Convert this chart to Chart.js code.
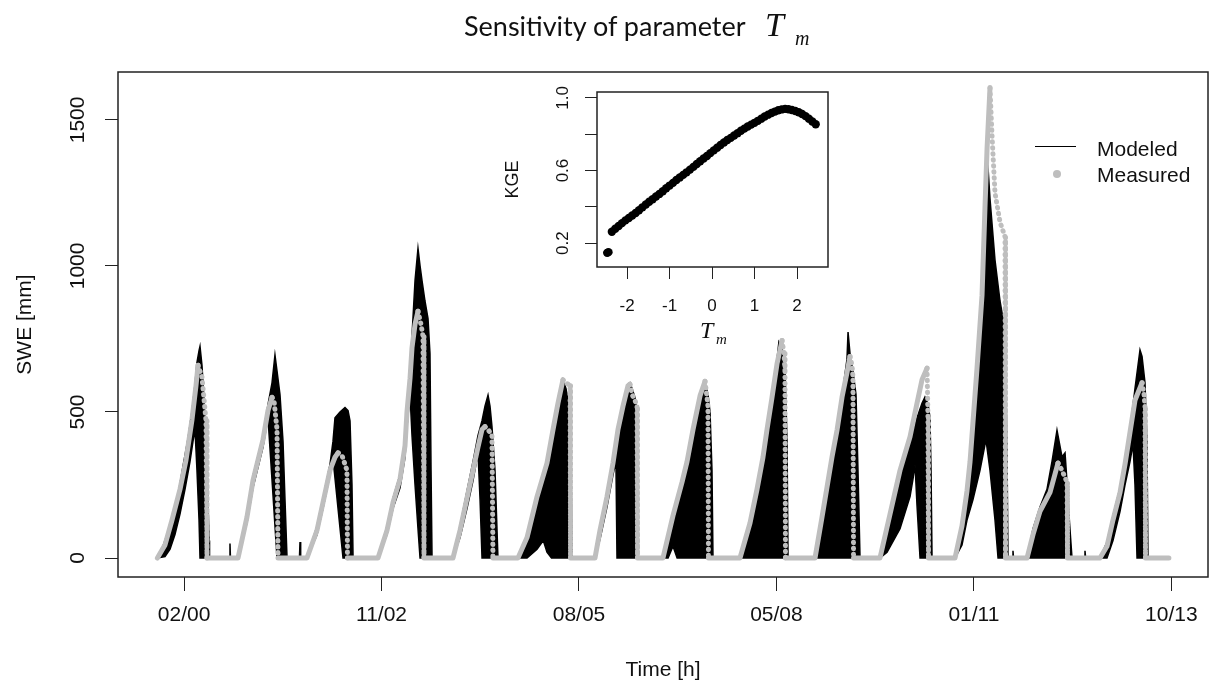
<!DOCTYPE html>
<html>
<head>
<meta charset="utf-8">
<script src="https://cdn.jsdelivr.net/npm/chart.js@4.4.1/dist/chart.umd.min.js"></script>
<style>
  body { margin: 0; background: #fff; }
  #wrap { position: relative; width: 1214px; height: 683px; overflow: hidden; }
  canvas { position: absolute; }
  #main { left: 0; top: 0; }
  #inset { left: 480px; top: 80px; }
  .t { position: absolute; white-space: nowrap; line-height: 1; color: #111; }
  .sans { font-family: "Liberation Sans", Arial, sans-serif; font-size: 21px; }
  .serif { font-family: "Liberation Serif", "Times New Roman", serif; font-style: italic; }
</style>
</head>
<body>
<div id="wrap">
  <canvas id="main" width="1214" height="683"></canvas>
  <canvas id="inset" width="360" height="280"></canvas>

  <div class="t" style="left:464px;top:12px;font-family:Lato,sans-serif;font-size:27px;">Sensitivity of parameter</div>
  <div class="t serif" style="left:765px;top:8px;font-size:34px;">T</div>
  <div class="t serif" style="left:795px;top:28px;font-size:20px;">m</div>

  <div class="t serif" style="left:700px;top:318px;font-size:24px;">T</div>
  <div class="t serif" style="left:716px;top:332px;font-size:15px;">m</div>

  <div style="position:absolute;left:1035px;top:146px;width:41px;border-top:1.5px solid #000;"></div>
  <div style="position:absolute;left:1053px;top:170px;width:8px;height:8px;border-radius:50%;background:#bebebe;"></div>
  <div class="t sans" style="left:1097px;top:138px;">Modeled</div>
  <div class="t sans" style="left:1097px;top:164px;">Measured</div>
</div>

<script>
// x axis in hours since start of record
const tickHours = [3250, 27300, 51350, 75400, 99450, 123500];
const tickLabels = ["02/00", "11/02", "08/05", "05/08", "01/11", "10/13"];
const sweTicks = [0, 500, 1000, 1500];

// upper edge of the modeled ensemble [h, mm]
const modeledUpper = [
  [0, 0],
  [70, 0], [680, 40], [1290, 90], [1900, 150], [2510, 215], [3120, 315], [3730, 410], [4220, 505], [4580, 595], [4820, 670], [5070, 710], [5190, 725], [5430, 660], [5680, 540], [5920, 405], [6160, 200], [6290, 60], [6350, 0],
  [8750, 0], [8840, 50], [8900, 0],
  [9820, 0], [10910, 150], [11640, 280], [12860, 420], [13470, 525], [13960, 600], [14320, 695], [14570, 640], [14930, 560], [15300, 400], [15540, 200], [15790, 0],
  [17300, 0], [17370, 55], [17450, 0],
  [18220, 0], [19440, 110], [20170, 205], [21020, 320], [21390, 400], [21630, 480], [22240, 500], [22850, 515], [23220, 505], [23460, 470], [23700, 250], [23830, 0],
  [26870, 0], [27970, 110], [28700, 205], [29550, 285], [30160, 400], [30400, 515], [30770, 630], [31010, 760], [31380, 950], [31740, 1060], [31990, 1000], [32230, 950], [32590, 880], [32960, 820], [33200, 700], [33330, 300], [33450, 0],
  [36000, 0], [36860, 110], [37710, 230], [38440, 330], [39050, 420], [39540, 470], [39900, 520], [40270, 558], [40510, 520], [40750, 450], [41120, 300], [41480, 0],
  [43920, 0], [45020, 70], [46240, 200], [47450, 320], [48190, 430], [48790, 525], [49400, 610], [49770, 580], [50260, 500], [50380, 300], [50500, 0],
  [53300, 0], [53910, 100], [54760, 215], [55490, 330], [56100, 445], [56710, 525], [57320, 595], [57560, 600], [57810, 580], [58170, 550], [58420, 500], [58540, 0],
  [61580, 0], [62800, 140], [63900, 260], [64510, 330], [65240, 440], [66090, 550], [66700, 600], [67060, 560], [67310, 500], [67550, 300], [67670, 0],
  [70960, 0], [72180, 115], [73030, 225], [73760, 340], [74250, 430], [74860, 545], [75470, 680], [75700, 740], [76080, 720], [76440, 650], [76690, 400], [76810, 0],
  [80100, 0], [80950, 140], [81560, 245], [82170, 350], [82780, 440], [83390, 555], [83990, 680], [84120, 774], [84360, 700], [84720, 640], [85090, 560], [85330, 300], [85580, 0],
  [88010, 0], [89230, 140], [90450, 280], [91670, 390], [92520, 480], [93130, 530], [93490, 551], [93860, 530], [94100, 480], [94230, 300], [94350, 0],
  [97150, 0], [98000, 100], [98610, 210], [99220, 400], [99830, 610], [100440, 880], [100800, 1220], [101050, 1390], [101410, 1230], [102020, 1020], [102630, 880], [103240, 780], [103480, 370], [103600, 0],
  [104150, 0], [104210, 25], [104280, 0],
  [105920, 0], [106650, 100], [107500, 175], [108350, 235], [108960, 330], [109570, 438], [110180, 346], [110550, 360], [110790, 260], [111100, 120], [111400, 0],
  [112900, 0], [112980, 25], [113060, 0],
  [114810, 0], [115660, 55], [116390, 145], [117250, 240], [117850, 330], [118460, 440], [119070, 580], [119680, 712], [119930, 690], [120290, 600], [120530, 400], [120650, 0],
  [123200, 0]
];

// lower edge of the modeled ensemble [h, mm]
const modeledLower = [
  [0, 0],
  [70, 0], [930, 5], [1540, 30], [2140, 80], [2750, 150], [3360, 235], [3970, 330], [4340, 400], [4580, 440], [4820, 300], [5070, 130], [5190, 0], [6350, 0],
  [9820, 0], [10910, 120], [11640, 240], [12860, 380], [13470, 480], [14000, 250], [14570, 0], [15790, 0],
  [18220, 0], [19440, 80], [20170, 170], [21020, 285], [21390, 340], [22000, 170], [22610, 0], [23830, 0],
  [26870, 0], [27970, 80], [28700, 170], [29550, 240], [30160, 345], [30400, 450], [30770, 560], [31010, 420], [31380, 250], [31740, 100], [31990, 0], [33450, 0],
  [36000, 0], [36860, 70], [37710, 170], [38440, 265], [39050, 360], [39300, 200], [39540, 0], [41480, 0],
  [43920, 0], [45020, 0], [46240, 30], [47000, 60], [47450, 20], [48000, 0], [50500, 0],
  [53300, 0], [53910, 65], [54760, 175], [55490, 285], [55850, 330], [55980, 0], [58540, 0],
  [61580, 0], [62200, 0], [62800, 40], [63300, 0], [67670, 0],
  [70960, 0], [76810, 0],
  [80100, 0], [85580, 0],
  [88010, 0], [88870, 20], [90450, 100], [91670, 210], [92030, 270], [92280, 320], [92520, 180], [92890, 0], [94350, 0],
  [97150, 0], [98000, 45], [98610, 130], [99340, 200], [100190, 300], [100920, 405], [101410, 300], [102020, 130], [102390, 0], [103600, 0],
  [105920, 0], [111400, 0],
  [114810, 0], [115660, 0], [116390, 60], [117250, 160], [117850, 250], [118460, 330], [118830, 390], [119070, 250], [119320, 0], [120650, 0],
  [123200, 0]
];

// measured SWE [h, mm]
const measured = [
  [0, 0],
  [70, 0], [930, 45], [1780, 130], [2750, 235], [3480, 335], [4220, 475], [4700, 590], [4950, 660], [5430, 620], [5920, 470], [6040, 0],
  [9820, 0], [10910, 140], [11640, 265], [12860, 405], [13470, 505], [13960, 550], [14200, 540], [14570, 440], [14690, 0],
  [18220, 0], [19440, 95], [20170, 190], [21020, 300], [21630, 345], [22000, 360], [22500, 350], [23090, 300], [23150, 0],
  [26870, 0], [27970, 95], [28700, 190], [29550, 270], [30160, 385], [30400, 500], [30770, 615], [31010, 720], [31380, 800], [31740, 845], [32100, 800], [32350, 760], [32470, 0],
  [36000, 0], [36860, 95], [37710, 205], [38440, 300], [39050, 380], [39540, 440], [39900, 450], [40270, 440], [40750, 420], [40870, 0],
  [43920, 0], [45020, 70], [46240, 210], [47450, 325], [48190, 440], [48790, 530], [49400, 610], [49770, 600], [50260, 590], [50320, 0],
  [53300, 0], [53910, 95], [54760, 210], [55490, 325], [56100, 440], [56710, 520], [57320, 590], [57560, 595], [57810, 560], [58170, 540], [58420, 520], [58480, 0],
  [61580, 0], [62800, 145], [63900, 260], [64510, 330], [65240, 440], [66090, 555], [66700, 605], [66900, 560], [67060, 520], [67120, 0],
  [70960, 0], [72180, 120], [73030, 235], [73760, 345], [74250, 440], [74860, 550], [75470, 665], [76080, 745], [76320, 700], [76440, 640], [76500, 0],
  [80100, 0], [80950, 140], [81560, 243], [82170, 346], [82780, 438], [83390, 551], [83990, 634], [84360, 690], [84600, 660], [84720, 620], [84790, 0],
  [88010, 0], [89230, 150], [90450, 300], [91670, 415], [92520, 530], [93130, 610], [93740, 650], [93860, 480], [93920, 0],
  [97150, 0], [98000, 110], [98610, 230], [98980, 330], [99830, 650], [100440, 900], [100800, 1200], [101050, 1400], [101410, 1610], [101650, 1450], [102020, 1250], [102630, 1150], [103240, 1100], [103300, 0],
  [105920, 0], [106650, 80], [107500, 160], [108720, 225], [109690, 325], [110180, 300], [110790, 260], [110850, 0],
  [114810, 0], [115660, 40], [116390, 130], [117250, 225], [117850, 320], [118460, 430], [119070, 540], [119930, 600], [120170, 560], [120290, 520], [120350, 0],
  [123200, 0]
];

// inset: KGE against parameter Tm
const tmValues = [-2.47, -2.44, -2.36, -2.28, -2.20, -2.12, -2.04, -1.96, -1.88, -1.80, -1.72, -1.64, -1.56, -1.48, -1.40, -1.32, -1.24, -1.16, -1.08, -1.00,
  -0.92, -0.84, -0.76, -0.68, -0.60, -0.52, -0.44, -0.36, -0.28, -0.20, -0.12, -0.04, 0.04, 0.12, 0.20, 0.28, 0.36, 0.44, 0.52, 0.60,
  0.68, 0.76, 0.84, 0.92, 1.00, 1.08, 1.16, 1.24, 1.32, 1.40, 1.48, 1.56, 1.64, 1.72, 1.80, 1.88, 1.96, 2.04, 2.12, 2.20, 2.28, 2.36, 2.44];
const kgeValues = [0.146, 0.150, 0.262, 0.279, 0.294, 0.310, 0.325, 0.338, 0.352, 0.366, 0.381, 0.397, 0.413, 0.428, 0.442, 0.457, 0.471, 0.486, 0.502, 0.517,
  0.532, 0.548, 0.562, 0.576, 0.590, 0.605, 0.620, 0.636, 0.651, 0.666, 0.680, 0.696, 0.711, 0.726, 0.741, 0.755, 0.768, 0.780, 0.793, 0.806,
  0.819, 0.831, 0.843, 0.853, 0.863, 0.874, 0.886, 0.898, 0.908, 0.917, 0.925, 0.932, 0.937, 0.940, 0.938, 0.934, 0.928, 0.921, 0.912, 0.900, 0.886, 0.870, 0.855];
const kgeTicks = [0.2, 0.4, 0.6, 0.8, 1.0];
const kgeTickLabels = ["0.2", "", "0.6", "", "1.0"];
const tmTicks = [-2, -1, 0, 1, 2];

Chart.defaults.font.family = "'Liberation Sans', Arial, sans-serif";
Chart.defaults.color = "#111";

const boxPlugin = {
  id: "box",
  afterDraw(chart) {
    const a = chart.chartArea;
    const ctx = chart.ctx;
    ctx.save();
    ctx.strokeStyle = "#222";
    ctx.lineWidth = 1.5;
    ctx.strokeRect(a.left, a.top, a.right - a.left, a.bottom - a.top);
    ctx.restore();
  }
};

const toXY = arr => arr.map(p => ({ x: p[0], y: p[1] }));

new Chart(document.getElementById("main"), {
  type: "line",
  data: {
    datasets: [
      {
        label: "Measured",
        data: toXY(measured),
        borderColor: "#bebebe",
        borderWidth: 5,
        borderCapStyle: "round",
        borderJoinStyle: "round",
        pointRadius: 0,
        fill: false,
        order: 0,
        segment: {
          borderDash: ctx => ctx.p1.parsed.y < ctx.p0.parsed.y ? [0.5, 5.5] : undefined
        }
      },
      {
        label: "Modeled",
        data: toXY(modeledUpper),
        borderColor: "#000",
        backgroundColor: "#000",
        borderWidth: 1.5,
        pointRadius: 0,
        fill: "+1",
        order: 1
      },
      {
        label: "Modeled low",
        data: toXY(modeledLower),
        borderColor: "#000",
        borderWidth: 1.5,
        pointRadius: 0,
        fill: false,
        order: 2
      }
    ]
  },
  options: {
    responsive: false,
    animation: false,
    layout: { padding: { top: 72, right: 6, left: 0, bottom: 0 } },
    plugins: { legend: { display: false }, tooltip: { enabled: false } },
    scales: {
      x: {
        type: "linear",
        min: -4799,
        max: 127963,
        afterBuildTicks: axis => { axis.ticks = tickHours.map(v => ({ value: v })); },
        afterFit: axis => { axis.height = 106; axis.paddingLeft = 0; axis.paddingRight = 0; },
        ticks: {
          autoSkip: false,
          maxRotation: 0,
          padding: 12,
          font: { size: 21 },
          callback: v => tickLabels[tickHours.indexOf(v)]
        },
        grid: { drawOnChartArea: false, tickLength: 14, tickColor: "#222", tickWidth: 1 },
        border: { display: false },
        title: { display: true, text: "Time [h]", font: { size: 21 }, padding: 0 }
      },
      y: {
        min: -65,
        max: 1664,
        afterBuildTicks: axis => { axis.ticks = sweTicks.map(v => ({ value: v })); },
        afterFit: axis => { axis.width = 118; axis.paddingTop = 0; axis.paddingBottom = 0; },
        ticks: {
          minRotation: 90,
          maxRotation: 90,
          crossAlign: "center",
          padding: 3,
          font: { size: 21 },
          callback: v => String(v)
        },
        grid: { drawOnChartArea: false, tickLength: 13, tickColor: "#222", tickWidth: 1 },
        border: { display: false },
        title: { display: true, text: "SWE [mm]", font: { size: 21 }, padding: { top: 13, bottom: 0 } }
      }
    }
  },
  plugins: [boxPlugin]
});

new Chart(document.getElementById("inset"), {
  type: "scatter",
  data: {
    datasets: [{
      label: "KGE",
      data: tmValues.map((t, i) => ({ x: t, y: kgeValues[i] })),
      backgroundColor: "#000",
      borderWidth: 0,
      pointRadius: 4.2
    }]
  },
  options: {
    responsive: false,
    animation: false,
    layout: { padding: { top: 12, right: 12, left: 0, bottom: 0 } },
    plugins: { legend: { display: false }, tooltip: { enabled: false } },
    scales: {
      x: {
        type: "linear",
        min: -2.71,
        max: 2.73,
        afterBuildTicks: axis => { axis.ticks = tmTicks.map(v => ({ value: v })); },
        afterFit: axis => { axis.height = 93; axis.paddingLeft = 0; axis.paddingRight = 0; },
        ticks: { autoSkip: false, maxRotation: 0, padding: 17, font: { size: 17 } },
        grid: { drawOnChartArea: false, tickLength: 12, tickColor: "#222", tickWidth: 1 },
        border: { display: false }
      },
      y: {
        min: 0.068,
        max: 1.033,
        afterBuildTicks: axis => { axis.ticks = kgeTicks.map(v => ({ value: v })); },
        afterFit: axis => { axis.width = 117; axis.paddingTop = 0; axis.paddingBottom = 0; },
        ticks: {
          minRotation: 90,
          maxRotation: 90,
          crossAlign: "center",
          padding: 10,
          font: { size: 17 },
          callback: (v, i) => kgeTickLabels[i]
        },
        grid: { drawOnChartArea: false, tickLength: 12, tickColor: "#222", tickWidth: 1 },
        border: { display: false },
        title: { display: true, text: "KGE", font: { size: 18 }, padding: { top: 22, bottom: 0 } }
      }
    }
  },
  plugins: [boxPlugin]
});
</script>
</body>
</html>
